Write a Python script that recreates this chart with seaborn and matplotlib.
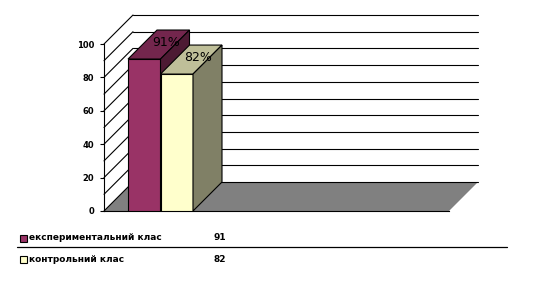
import matplotlib
matplotlib.use("Agg")
import matplotlib.pyplot as plt
import matplotlib.colors as mcolors
from matplotlib.patches import Polygon, Rectangle
from matplotlib.lines import Line2D
import pandas as pd
import seaborn as sns

# ---- data ----
group = ["клас"]
series = ["експериментальний клас", "контрольний клас"]
values = [91, 82]
value_labels = ["91%", "82%"]
table_values = ["91", "82"]
yticks = [0, 20, 40, 60, 80, 100]
colors = ["#993366", "#FFFFCC"]

sns.set_style("white")
plt.rcParams["font.family"] = ["DejaVu Sans"]
plt.rcParams["text.color"] = "black"
plt.rcParams["ytick.color"] = "black"

W, H = 555, 284
fig = plt.figure(figsize=(W / 100, H / 100), dpi=100)

# axes placement in pixels
x0_px, x1_px = 104, 449
y0_px, ytop_px = 211, 10
px_per_unit_y = 1.67
ax = fig.add_axes([x0_px / W, (H - y0_px) / H, (x1_px - x0_px) / W, (y0_px - ytop_px) / H])
ax.set_facecolor("none")

df = pd.DataFrame({"group": group * len(series), "series": series, "value": values})
sns.barplot(data=df, x="group", y="value", hue="series", hue_order=series,
            palette=colors, width=0.8, edgecolor="black", linewidth=0.8,
            legend=False, ax=ax, saturation=1)

px_per_unit_x = 81.25
xl = -(160.5 - x0_px) / px_per_unit_x
xr = (x1_px - 160.5) / px_per_unit_x
ax.set_xlim(xl, xr)
ax.set_ylim(0, (y0_px - ytop_px) / px_per_unit_y)

dx = 29 / px_per_unit_x
dy = 29 / px_per_unit_y

# floor
floor = Polygon([(xl, 0), (xr, 0), (xr + dx, dy), (xl + dx, dy)], closed=True,
                facecolor="#808080", edgecolor="none", zorder=0.5, clip_on=False)
ax.add_patch(floor)

# back wall gridlines and left wall diagonals
for v in range(0, 101, 10):
    ax.add_line(Line2D([xl + dx, xr + dx], [v + dy, v + dy], color="black", lw=0.8,
                       zorder=0.6, clip_on=False))
    ax.add_line(Line2D([xl, xl + dx], [v, v + dy], color="black", lw=0.8,
                       zorder=0.6, clip_on=False))

# 3D faces of bars
for i, p in enumerate(ax.patches[:len(values)]):
    z = 3 + 2 * i
    p.set_zorder(z)
    x, w, h = p.get_x(), p.get_width(), p.get_height()
    base = mcolors.to_rgb(colors[i])
    top_c = tuple(c * 0.75 for c in base)
    side_c = tuple(c * 0.5 for c in base)
    top = Polygon([(x, h), (x + w, h), (x + w + dx, h + dy), (x + dx, h + dy)], closed=True,
                  facecolor=top_c, edgecolor="black", lw=0.8, zorder=z, clip_on=False)
    side = Polygon([(x + w, 0), (x + w, h), (x + w + dx, h + dy), (x + w + dx, dy)], closed=True,
                   facecolor=side_c, edgecolor="black", lw=0.8, zorder=z, clip_on=False)
    ax.add_patch(top)
    ax.add_patch(side)
    ax.text(x + w / 2 + dx / 2 + 7 / px_per_unit_x, h + dy / 2 + 2 / px_per_unit_y,
            value_labels[i], ha="center", va="center", fontsize=9, color="black",
            zorder=z + 1)

# axes styling
for s in ["top", "right"]:
    ax.spines[s].set_visible(False)
ax.spines["left"].set_bounds(0, 100)
ax.spines["left"].set_linewidth(0.8)
ax.spines["bottom"].set_linewidth(0.8)
ax.spines["left"].set_color("black")
ax.spines["bottom"].set_color("black")
ax.set_yticks(yticks)
ax.set_yticklabels([str(t) for t in yticks], fontsize=6, fontweight="bold", color="black")
ax.tick_params(axis="y", direction="out", length=3, width=0.8, pad=4, left=True,
               colors="black")
ax.set_xticks([])
ax.set_xlabel("")
ax.set_ylabel("")

# data table / legend
def fx(px):
    return px / W

def fy(py):
    return 1 - py / H

rows_y = [238, 259]
for i, name in enumerate(series):
    yc = rows_y[i]
    fig.add_artist(Rectangle((fx(20), fy(yc + 3.5)), 7 / W, 7 / H, transform=fig.transFigure,
                             facecolor=colors[i], edgecolor="black", lw=0.8))
    fig.text(fx(29), fy(yc), name, ha="left", va="center", fontsize=6.5, fontweight="bold",
             color="black")
    fig.text(fx(213), fy(yc), table_values[i], ha="left", va="center", fontsize=6.5,
             fontweight="bold", color="black")
fig.add_artist(Line2D([fx(17), fx(507)], [fy(246.7), fy(246.7)], transform=fig.transFigure,
                      color="black", lw=0.9))

fig.savefig("out.png", dpi=100)
